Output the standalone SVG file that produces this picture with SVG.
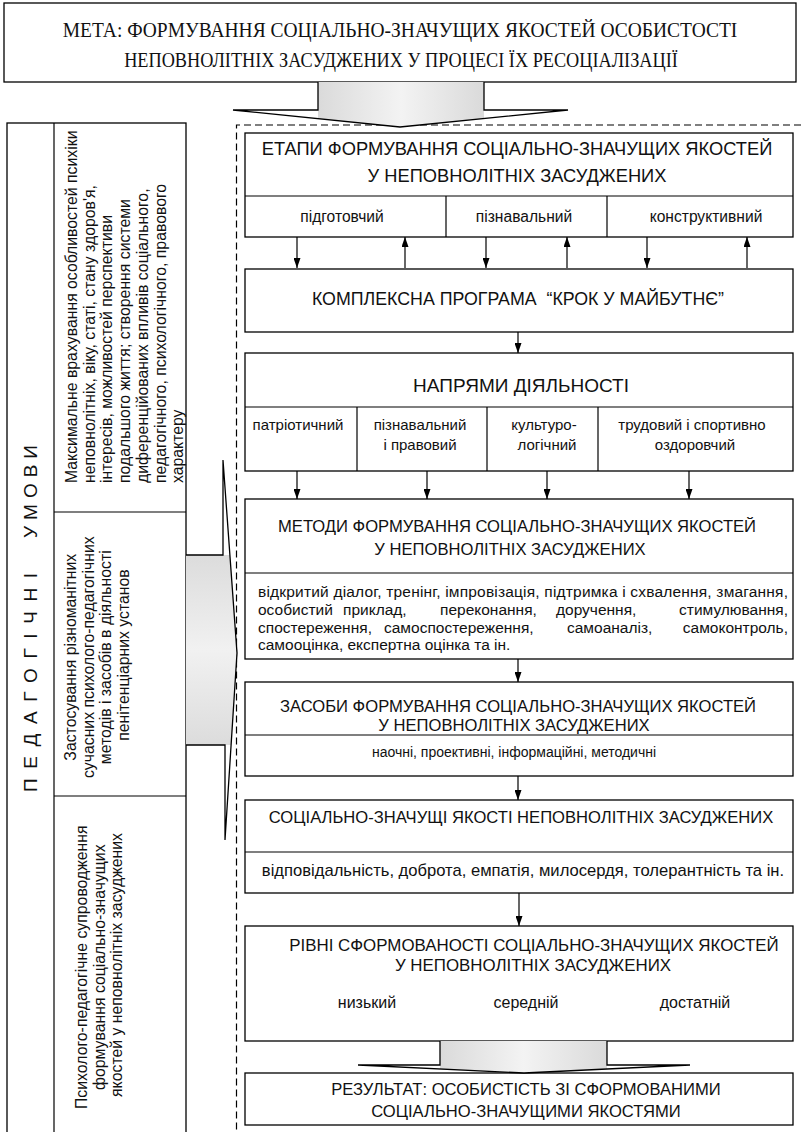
<svg xmlns="http://www.w3.org/2000/svg" width="801" height="1132" viewBox="0 0 801 1132">
<style>
.box{fill:#fff;stroke:#000;stroke-width:1.3}
.ln{stroke:#000;stroke-width:1.2;fill:none}
.t{font-family:"Liberation Sans",Arial,sans-serif;fill:#111}
.h{font-size:18.3px}
.hs{font-size:16.6px}
.s{font-size:15px}
.l{font-size:15.8px}
.m{text-anchor:middle}
.e{text-anchor:end}
.serif{font-family:"Liberation Serif","Times New Roman",serif;font-size:22px;fill:#111;text-anchor:middle}
.dash{stroke:#000;stroke-width:1.2;stroke-dasharray:7 4;fill:none}
.con{stroke:#000;stroke-width:1.2;fill:none;marker-end:url(#ah)}
.big{fill:none;stroke:#000;stroke-width:1.3;stroke-linejoin:miter}
</style>
<defs>
<marker id="ah" viewBox="0 0 10 7" refX="10" refY="3.5" markerWidth="10" markerHeight="7" markerUnits="userSpaceOnUse" orient="auto">
<path d="M0,0 L10,3.5 L0,7 z" fill="#000"/>
</marker>
<linearGradient id="gh" x1="0" y1="0" x2="1" y2="0">
<stop offset="0" stop-color="#dadada"/><stop offset="0.5" stop-color="#f3f3f3"/><stop offset="1" stop-color="#dadada"/>
</linearGradient>
<linearGradient id="gv" x1="0" y1="0" x2="0" y2="1">
<stop offset="0" stop-color="#dcdcdc"/><stop offset="0.5" stop-color="#f1f1f1"/><stop offset="1" stop-color="#dcdcdc"/>
</linearGradient>
</defs>

<rect width="801" height="1132" fill="#fff"/>

<g id="goal">
<rect class="box" x="4" y="3" width="792" height="79"/>
<text class="serif" transform="translate(400,37) scale(0.885,1)" x="0" y="0">МЕТА: ФОРМУВАННЯ СОЦІАЛЬНО-ЗНАЧУЩИХ ЯКОСТЕЙ ОСОБИСТОСТІ</text>
<text class="serif" transform="translate(401,67) scale(0.83,1)" x="0" y="0">НЕПОВНОЛІТНІХ ЗАСУДЖЕНИХ У ПРОЦЕСІ ЇХ РЕСОЦІАЛІЗАЦІЇ</text>
</g>

<g id="frame">
<path class="dash" d="M801,125 H236.5 V1132"/>
</g>

<g id="conditions">
<rect class="box" x="7" y="123" width="179" height="1020"/>
<line class="ln" x1="54" y1="123" x2="54" y2="1140"/>
<line class="ln" x1="54" y1="512" x2="186" y2="512"/>
<line class="ln" x1="54" y1="796" x2="186" y2="796"/>
<text class="t" font-size="19" transform="translate(37,792) rotate(-90)" textLength="219" lengthAdjust="spacing">ПЕДАГОГІЧНІ</text>
<text class="t" font-size="19" transform="translate(37,538) rotate(-90)" textLength="93" lengthAdjust="spacing">УМОВИ</text>
</g>

<g id="cond1">
<text class="t l" transform="translate(77,483) rotate(-90)">
<tspan x="0" y="0">Максимальне врахування особливостей психіки</tspan>
<tspan x="0" dy="17.7">неповнолітніх, віку, статі, стану здоров'я,</tspan>
<tspan x="0" dy="17.7">інтересів, можливостей перспективи</tspan>
<tspan x="0" dy="17.7">подальшого життя; створення системи</tspan>
<tspan x="0" dy="17.7">диференційованих впливів соціального,</tspan>
<tspan x="0" dy="17.7">педагогічного, психологічного, правового</tspan>
<tspan x="0" dy="17.7">характеру</tspan>
</text>
</g>

<g id="cond2">
<text class="t l m" transform="translate(76,655) rotate(-90)">
<tspan x="0" y="0">Застосування різноманітних</tspan>
<tspan x="0" dy="17.7">сучасних психолого-педагогічних</tspan>
<tspan x="0" dy="17.7">методів і засобів в діяльності</tspan>
<tspan x="0" dy="17.7">пенітенціарних установ</tspan>
</text>
</g>

<g id="cond3">
<text class="t l m" transform="translate(87,965) rotate(-90)">
<tspan x="0" y="0">Психолого-педагогічне супроводження</tspan>
<tspan x="0" dy="17.7">формування соціально-значущих</tspan>
<tspan x="0" dy="17.7">якостей у неповнолітніх засуджених</tspan>
</text>
</g>

<g id="stages">
<rect class="box" x="245" y="133" width="548" height="104"/>
<line class="ln" x1="245" y1="196" x2="793" y2="196"/>
<line class="ln" x1="446" y1="196" x2="446" y2="237"/>
<line class="ln" x1="607" y1="196" x2="607" y2="237"/>
<text class="t h m" x="517" y="155">ЕТАПИ ФОРМУВАННЯ СОЦІАЛЬНО-ЗНАЧУЩИХ ЯКОСТЕЙ</text>
<text class="t h m" x="517" y="182">У НЕПОВНОЛІТНІХ ЗАСУДЖЕНИХ</text>
<text class="t m" font-size="15.6" x="342" y="222">підготовчий</text>
<text class="t m" font-size="15.6" x="524" y="222">пізнавальний</text>
<text class="t m" font-size="15.6" x="706" y="222">конструктивний</text>
</g>

<g id="program">
<rect class="box" x="245" y="269" width="548" height="63"/>
<text class="t m" font-size="17.8" x="518" y="305" xml:space="preserve">КОМПЛЕКСНА ПРОГРАМА  “КРОК У МАЙБУТНЄ”</text>
</g>

<g id="directions">
<rect class="box" x="245" y="353" width="548" height="118"/>
<line class="ln" x1="245" y1="407" x2="793" y2="407"/>
<line class="ln" x1="357" y1="407" x2="357" y2="471"/>
<line class="ln" x1="487" y1="407" x2="487" y2="471"/>
<line class="ln" x1="598" y1="407" x2="598" y2="471"/>
<text class="t m" font-size="19" x="521" y="392">НАПРЯМИ ДІЯЛЬНОСТІ</text>
<text class="t s m" x="298" y="430">патріотичний</text>
<text class="t s m" x="420" y="430">пізнавальний</text>
<text class="t s m" x="420" y="450">і правовий</text>
<text class="t s m" x="544" y="430">культуро-</text>
<text class="t s m" x="547" y="450">логічний</text>
<text class="t s m" x="692" y="430">трудовий і спортивно</text>
<text class="t s m" x="695" y="450">оздоровчий</text>
</g>

<g id="methods">
<rect class="box" x="245" y="499" width="548" height="160"/>
<line class="ln" x1="245" y1="573" x2="793" y2="573"/>
<text class="t hs m" x="517" y="532">МЕТОДИ ФОРМУВАННЯ СОЦІАЛЬНО-ЗНАЧУЩИХ ЯКОСТЕЙ</text>
<text class="t hs m" x="510" y="555">У НЕПОВНОЛІТНІХ ЗАСУДЖЕНИХ</text>
<text class="t" font-size="15.5" x="258" y="597" textLength="530" lengthAdjust="spacing">відкритий діалог, тренінг, імпровізація, підтримка і схвалення, змагання,</text>
<text class="t" font-size="15.5" y="615"><tspan x="258">особистий</tspan><tspan x="343">приклад,</tspan><tspan x="440">переконання,</tspan><tspan x="556">доручення,</tspan></text>
<text class="t e" font-size="15.5" x="788" y="615">стимулювання,</text>
<text class="t" font-size="15.5" y="633"><tspan x="258">спостереження,</tspan><tspan x="384">самоспостереження,</tspan><tspan x="567">самоаналіз,</tspan></text>
<text class="t e" font-size="15.5" x="788" y="633">самоконтроль,</text>
<text class="t" font-size="15.5" x="258" y="650">самооцінка, експертна оцінка та ін.</text>
</g>

<g id="means">
<rect class="box" x="245" y="682" width="548" height="94"/>
<line class="ln" x1="245" y1="735" x2="793" y2="735"/>
<text class="t hs m" x="518" y="712">ЗАСОБИ ФОРМУВАННЯ СОЦІАЛЬНО-ЗНАЧУЩИХ ЯКОСТЕЙ</text>
<text class="t hs m" x="514" y="731">У НЕПОВНОЛІТНІХ ЗАСУДЖЕНИХ</text>
<text class="t m" font-size="14" x="514" y="757">наочні, проективні, інформаційні, методичні</text>
</g>

<g id="qualities">
<rect class="box" x="245" y="800" width="548" height="93"/>
<line class="ln" x1="245" y1="852" x2="793" y2="852"/>
<text class="t hs m" x="521" y="823">СОЦІАЛЬНО-ЗНАЧУЩІ ЯКОСТІ НЕПОВНОЛІТНІХ ЗАСУДЖЕНИХ</text>
<text class="t m" font-size="16.6" x="523" y="876">відповідальність, доброта, емпатія, милосердя, толерантність та ін.</text>
</g>

<g id="levels">
<rect class="box" x="245" y="926" width="548" height="115"/>
<text class="t m" font-size="16.9" x="534" y="951">РІВНІ СФОРМОВАНОСТІ СОЦІАЛЬНО-ЗНАЧУЩИХ ЯКОСТЕЙ</text>
<text class="t m" font-size="16.9" x="533" y="971">У НЕПОВНОЛІТНІХ ЗАСУДЖЕНИХ</text>
<text class="t m" font-size="16" x="367" y="1008">низький</text>
<text class="t m" font-size="16" x="526" y="1008">середній</text>
<text class="t m" font-size="16" x="695" y="1008">достатній</text>
</g>

<g id="result">
<rect class="box" x="245" y="1073" width="548" height="52"/>
<text class="t hs m" x="526" y="1095">РЕЗУЛЬТАТ: ОСОБИСТІСТЬ ЗІ СФОРМОВАНИМИ</text>
<text class="t hs m" x="526" y="1117">СОЦІАЛЬНО-ЗНАЧУЩИМИ ЯКОСТЯМИ</text>
</g>

<g id="connectors">
<polygon points="318,82 484,82 484,118.5 400,127 318,118.7" fill="url(#gh)"/>
<path class="big" d="M318,82 V110 H233 L400,127 L568,110 H484 V82"/>
<polygon points="186,555 229.9,555 237,653 231,745 186,745" fill="url(#gv)"/>
<path class="big" d="M186,555 H223 V460 L237,653 L225,840 V745 H186"/>
<polygon points="440,1041 607,1041 607,1069 524,1073 440,1069" fill="url(#gh)"/>
<path class="big" d="M440,1041 V1065 H358 L524,1073 L690,1065 H607 V1041"/>
<path class="con" d="M297,237 V268"/>
<path class="con" d="M405,268 V237"/>
<path class="con" d="M486,237 V268"/>
<path class="con" d="M567,268 V237"/>
<path class="con" d="M647,237 V268"/>
<path class="con" d="M747,268 V237"/>
<path class="con" d="M518,332 V353"/>
<path class="con" d="M297,471 V499"/>
<path class="con" d="M427,471 V499"/>
<path class="con" d="M547,471 V499"/>
<path class="con" d="M689,471 V499"/>
<path class="con" d="M518,659 V682"/>
<path class="con" d="M518,776 V800"/>
<path class="con" d="M519,893 V926"/>
</g>
</svg>
